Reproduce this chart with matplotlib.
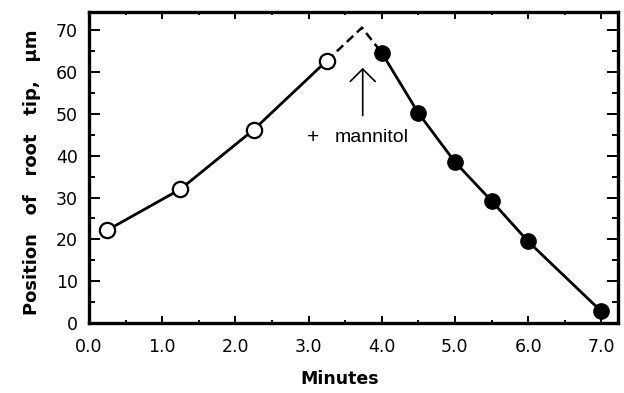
import matplotlib
matplotlib.use("Agg")
import matplotlib.pyplot as plt
from matplotlib.ticker import MultipleLocator

plt.rcParams['font.family'] = ['DejaVu Sans']

control_x = [0.25, 1.25, 2.25, 3.25]
control_y = [22.2, 32.0, 46.2, 62.7]
dashed_x = [3.25, 3.73, 4.0]
dashed_y = [62.7, 70.6, 64.6]
mannitol_x = [4.0, 4.5, 5.0, 5.5, 6.0, 7.0]
mannitol_y = [64.6, 50.2, 38.5, 29.2, 19.5, 2.8]
xticks = [0, 1, 2, 3, 4, 5, 6, 7]
xticklabels = ['0.0', '1.0', '2.0', '3.0', '4.0', '5.0', '6.0', '7.0']
yticks = [0, 10, 20, 30, 40, 50, 60, 70]

fig = plt.figure(figsize=(6.24, 3.93), dpi=100)
ax = fig.add_axes([0.1426, 0.178, 0.848, 0.791])

ax.plot(dashed_x, dashed_y, color='black', lw=1.8, ls=(0, (3.5, 2)), zorder=1)
ax.plot(control_x, control_y, color='black', lw=2.0, marker='o', ms=11,
        mfc='white', mec='black', mew=1.6, zorder=3)
ax.plot(mannitol_x, mannitol_y, color='black', lw=2.0, marker='o', ms=11,
        mfc='black', mec='black', zorder=3)

ax.annotate('', xy=(3.74, 61.0), xytext=(3.74, 49.6),
            arrowprops=dict(arrowstyle='->, head_length=0.45, head_width=0.45',
                            color='black', lw=1.2, mutation_scale=20,
                            shrinkA=0, shrinkB=0))
ax.text(3.06, 44.4, '+', fontsize=15, ha='center', va='center',
        family='Liberation Sans')
ax.text(3.36, 44.4, 'mannitol', fontsize=14, ha='left', va='center',
        family='Liberation Sans')

ax.set_xlim(0, 7.23)
ax.set_ylim(0, 74.3)
ax.set_xticks(xticks)
ax.set_xticklabels(xticklabels)
ax.set_yticks(yticks)
ax.xaxis.set_minor_locator(MultipleLocator(0.5))
ax.yaxis.set_minor_locator(MultipleLocator(5))
ax.tick_params(which='both', direction='in', top=True, right=True,
               labelsize=12.5, width=1.4)
ax.tick_params(axis='x', which='major', length=5, pad=11)
ax.tick_params(axis='x', which='minor', length=2.5)
ax.tick_params(axis='y', which='major', length=8, pad=8)
ax.tick_params(axis='y', which='minor', length=4)
for s in ax.spines.values():
    s.set_linewidth(2.4)

ax.set_xlabel('Minutes', fontsize=12.5, fontweight='bold')
ax.xaxis.set_label_coords(0.473, -0.152)
ax.set_ylabel('Position   of   root   tip,   \u03bcm', fontsize=13,
              fontweight='bold')
ax.yaxis.set_label_coords(-0.09, 0.486)

fig.savefig('out.png', dpi=100)
